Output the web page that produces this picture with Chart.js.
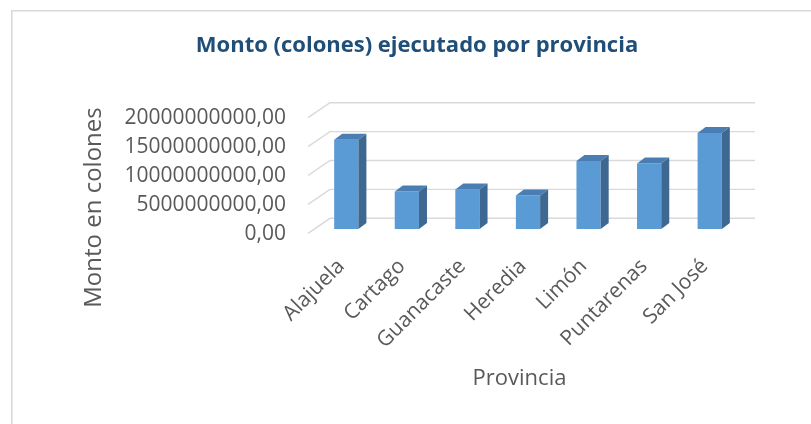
<!DOCTYPE html>
<html>
<head>
<meta charset="utf-8">
<script src="https://cdn.jsdelivr.net/npm/chart.js@4.4.1/dist/chart.umd.min.js"></script>
<style>
  html, body { margin: 0; padding: 0; background: #ffffff; }
  #wrap { width: 811px; height: 424px; position: relative; }
</style>
</head>
<body>
<div id="wrap"><canvas id="c" width="811" height="424"></canvas></div>
<script>
// ---- data ----
const categories = ['Alajuela', 'Cartago', 'Guanacaste', 'Heredia', 'Limón', 'Puntarenas', 'San José'];
const montos = [15450000000, 6500000000, 6850000000, 5800000000, 11750000000, 11350000000, 16600000000];
const yTickValues = [0, 5000000000, 10000000000, 15000000000, 20000000000];
const chartTitle = 'Monto (colones) ejecutado por provincia';
const yAxisTitle = 'Monto en colones';
const xAxisTitle = 'Provincia';

// ---- style ----
const FONT = "'Open Sans', 'DejaVu Sans', sans-serif";
const TEXT = '#595959';
const GRID = '#d9d9d9';
const FRONT = '#5b9bd5';
const TOP = '#4a7db2';
const SIDE = '#3c6892';
const BACK_DX = 14, BACK_DY = -10.7;   // back wall offset from bar plane
const FRONT_DX = -8, FRONT_DY = 4.3;   // front floor edge offset
const BAR_DX = 8, BAR_DY = -6;         // bar depth

Chart.defaults.font.family = FONT;
Chart.defaults.color = TEXT;

const framePlugin = {
  id: 'frame',
  beforeDraw(chart) {
    const ctx = chart.ctx;
    ctx.save();
    ctx.fillStyle = '#ffffff';
    ctx.fillRect(0, 0, chart.width, chart.height);
    ctx.strokeStyle = GRID;
    ctx.lineWidth = 1.6;
    ctx.beginPath();
    ctx.moveTo(11.8, chart.height + 2);
    ctx.lineTo(11.8, 10.8);
    ctx.lineTo(chart.width + 2, 10.8);
    ctx.stroke();
    ctx.restore();
  }
};

const wallPlugin = {
  id: 'wall',
  beforeDatasetsDraw(chart) {
    const ctx = chart.ctx;
    const ys = chart.scales.y;
    const area = chart.chartArea;
    ctx.save();
    ctx.strokeStyle = GRID;
    ctx.lineWidth = 1.4;
    ys.ticks.forEach(t => {
      const py = ys.getPixelForValue(t.value);
      ctx.beginPath();
      ctx.moveTo(area.left + FRONT_DX, py + FRONT_DY);
      ctx.lineTo(area.left + BACK_DX, py + BACK_DY);
      ctx.lineTo(area.right + BACK_DX + 1, py + BACK_DY);
      ctx.stroke();
    });
    ctx.restore();
  }
};

const depthPlugin = {
  id: 'depth',
  afterDatasetsDraw(chart) {
    const ctx = chart.ctx;
    const meta = chart.getDatasetMeta(0);
    ctx.save();
    meta.data.forEach(bar => {
      const p = bar.getProps(['x', 'y', 'base', 'width'], true);
      const l = p.x - p.width / 2, r = p.x + p.width / 2;
      ctx.fillStyle = TOP;
      ctx.beginPath();
      ctx.moveTo(l, p.y);
      ctx.lineTo(l + BAR_DX, p.y + BAR_DY);
      ctx.lineTo(r + BAR_DX, p.y + BAR_DY);
      ctx.lineTo(r, p.y);
      ctx.closePath();
      ctx.fill();
      ctx.fillStyle = SIDE;
      ctx.beginPath();
      ctx.moveTo(r, p.y);
      ctx.lineTo(r + BAR_DX, p.y + BAR_DY);
      ctx.lineTo(r + BAR_DX, p.base + BAR_DY);
      ctx.lineTo(r, p.base);
      ctx.closePath();
      ctx.fill();
    });
    ctx.restore();
  }
};

const axisTitlePlugin = {
  id: 'axisTitles',
  afterDraw(chart) {
    const ctx = chart.ctx;
    ctx.save();
    ctx.fillStyle = TEXT;
    ctx.textAlign = 'center';
    ctx.textBaseline = 'middle';
    ctx.font = "24px " + FONT;
    ctx.translate(94.5, 207.5);
    ctx.rotate(-Math.PI / 2);
    ctx.fillText(yAxisTitle, 0, 0);
    ctx.restore();
    ctx.save();
    ctx.fillStyle = TEXT;
    ctx.textAlign = 'center';
    ctx.textBaseline = 'middle';
    ctx.font = "22px " + FONT;
    ctx.fillText(xAxisTitle, 519.5, 378.5);
    ctx.restore();
  }
};

new Chart(document.getElementById('c'), {
  type: 'bar',
  data: {
    labels: categories,
    datasets: [{
      data: montos,
      backgroundColor: FRONT,
      borderWidth: 0,
      categoryPercentage: 1.0,
      barPercentage: 0.4
    }]
  },
  options: {
    responsive: false,
    animation: false,
    devicePixelRatio: 1,
    layout: { padding: { left: 23, right: 0, top: 0, bottom: 0 } },
    plugins: {
      legend: { display: false },
      tooltip: { enabled: false },
      title: {
        display: true,
        text: chartTitle,
        color: '#1f4e79',
        font: { size: 22, weight: 'bold', family: FONT },
        padding: { top: 33, bottom: 54 }
      }
    },
    scales: {
      x: {
        grid: { display: false, drawTicks: false },
        border: { display: false },
        ticks: {
          font: { size: 21 },
          color: TEXT,
          maxRotation: 45,
          minRotation: 45,
          padding: 25,
          labelOffset: -5,
          autoSkip: false
        },
        afterFit(s) { s.height = 195; }
      },
      y: {
        min: 0,
        max: 20000000000,
        grid: { display: false, drawTicks: false },
        border: { display: false },
        afterBuildTicks(s) { s.ticks = yTickValues.map(v => ({ value: v })); },
        ticks: {
          font: { size: 21 },
          color: TEXT,
          padding: 30,
          labelOffset: 5,
          callback: v => Number(v).toFixed(2).replace('.', ',')
        },
        afterFit(s) { s.width = 293; }
      },
      yRight: {
        position: 'right',
        display: true,
        grid: { display: false, drawTicks: false },
        border: { display: false },
        ticks: { display: false },
        afterFit(s) { s.width = 71; }
      }
    }
  },
  plugins: [framePlugin, wallPlugin, depthPlugin, axisTitlePlugin]
});
</script>
</body>
</html>
